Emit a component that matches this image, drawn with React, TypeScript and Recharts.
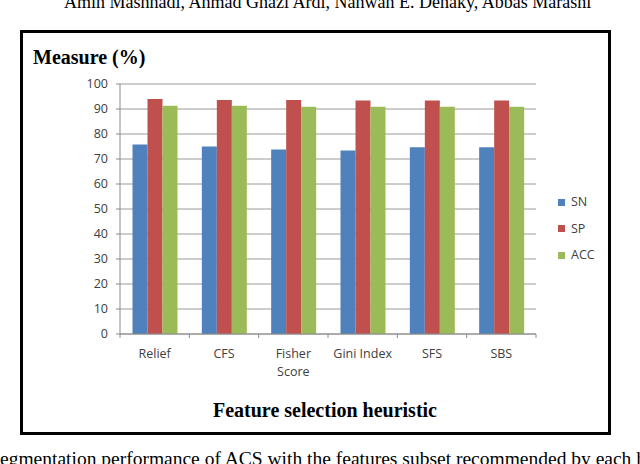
import { BarChart, Bar, XAxis, YAxis, CartesianGrid } from "recharts";

const categories = ["Relief", "CFS", "Fisher Score", "Gini Index", "SFS", "SBS"];
const tickLines = [["Relief"], ["CFS"], ["Fisher", "Score"], ["Gini Index"], ["SFS"], ["SBS"]];
const snValues = [75.8, 75.0, 73.8, 73.4, 74.7, 74.7];
const spValues = [94.0, 93.6, 93.6, 93.4, 93.4, 93.4];
const accValues = [91.3, 91.3, 90.9, 90.9, 90.9, 90.9];
const yTicks = [0, 10, 20, 30, 40, 50, 60, 70, 80, 90, 100];

const series = [
  { key: "SN", color: "#4F81BD" },
  { key: "SP", color: "#C0504D" },
  { key: "ACC", color: "#9BBB59" },
];

const data = categories.map((c, i) => ({
  category: c,
  SN: snValues[i],
  SP: spValues[i],
  ACC: accValues[i],
}));

const LABEL_FONT = "'Open Sans', 'DejaVu Sans', sans-serif";
const SERIF = "'Liberation Serif', 'DejaVu Serif', serif";
const AXIS_COLOR = "#8a8a8a";

function CategoryTick(props: any) {
  const { x, y, payload, index } = props;
  const half = payload?.offset ?? 34.67;
  const lines = tickLines[index] ?? [payload.value];
  return (
    <g>
      <line x1={x - half} y1={y} x2={x - half} y2={y + 4} stroke={AXIS_COLOR} />
      {index === categories.length - 1 && (
        <line x1={x + half} y1={y} x2={x + half} y2={y + 4} stroke={AXIS_COLOR} />
      )}
      <text x={x} y={y} textAnchor="middle" fill="#404040" fontSize={12.5} fontFamily={LABEL_FONT}>
        {lines.map((l, i) => (
          <tspan key={i} x={x} dy={i === 0 ? 24 : 18}>
            {l}
          </tspan>
        ))}
      </text>
    </g>
  );
}

export default function App() {
  return (
    <div
      style={{
        position: "absolute",
        left: 0,
        top: 0,
        width: 640,
        height: 464,
        overflow: "hidden",
        background: "#fff",
      }}
    >
      {/* clipped running header from the page */}
      <div
        style={{
          position: "absolute",
          left: 64,
          top: -7,
          whiteSpace: "nowrap",
          fontFamily: SERIF,
          fontSize: 18,
          lineHeight: "18px",
          color: "#000",
        }}
      >
        Amin Mashhadi, Ahmad Ghazi Ardi, Nahwan E. Dehaky, Abbas Marashi
      </div>

      <div
        style={{
          position: "absolute",
          left: 20,
          top: 30,
          width: 591,
          height: 405,
          boxSizing: "border-box",
          border: "3px solid #000",
        }}
      />

      <div
        style={{
          position: "absolute",
          left: 33,
          top: 47,
          fontFamily: SERIF,
          fontWeight: "bold",
          fontSize: 20,
          lineHeight: "20px",
          color: "#000",
          whiteSpace: "nowrap",
        }}
      >
        Measure (%)
      </div>

      <div style={{ position: "absolute", left: 0, top: 0 }}>
        <BarChart
          width={640}
          height={464}
          data={data}
          margin={{ top: 84, right: 104, bottom: 100, left: 80 }}
          barCategoryGap={12.5}
          barGap={0}
        >
          <CartesianGrid vertical={false} stroke="#9a9a9a" />
          <XAxis
            dataKey="category"
            interval={0}
            tickSize={0}
            tickMargin={0}
            height={30}
            axisLine={{ stroke: AXIS_COLOR }}
            tickLine={false}
            tick={<CategoryTick />}
          />
          <YAxis
            width={40}
            domain={[0, 100]}
            ticks={yTicks}
            interval={0}
            tickSize={4}
            tickMargin={8}
            axisLine={{ stroke: AXIS_COLOR }}
            tickLine={{ stroke: AXIS_COLOR }}
            tick={{ fill: "#404040", fontSize: 12.5, fontFamily: LABEL_FONT }}
          />
          {series.map((s) => (
            <Bar key={s.key} dataKey={s.key} fill={s.color} isAnimationActive={false} />
          ))}
        </BarChart>
      </div>

      {series.map((s, i) => (
        <div
          key={s.key}
          style={{
            position: "absolute",
            left: 558,
            top: 194 + i * 26.5,
            display: "flex",
            alignItems: "center",
            fontFamily: LABEL_FONT,
            fontSize: 12.5,
            color: "#404040",
            lineHeight: "16px",
          }}
        >
          <span style={{ display: "inline-block", width: 7, height: 7, background: s.color, marginRight: 6 }} />
          {s.key}
        </div>
      ))}

      <div
        style={{
          position: "absolute",
          left: 0,
          width: 650,
          top: 400,
          textAlign: "center",
          fontFamily: SERIF,
          fontWeight: "bold",
          fontSize: 20,
          lineHeight: "20px",
          color: "#000",
          whiteSpace: "nowrap",
        }}
      >
        Feature selection heuristic
      </div>

      <div
        style={{
          position: "absolute",
          left: 0,
          top: 449,
          whiteSpace: "nowrap",
          fontFamily: SERIF,
          fontSize: 19.5,
          lineHeight: "19.5px",
          color: "#000",
        }}
      >
        egmentation performance of ACS with the features subset recommended by each heuristic
      </div>
    </div>
  );
}
